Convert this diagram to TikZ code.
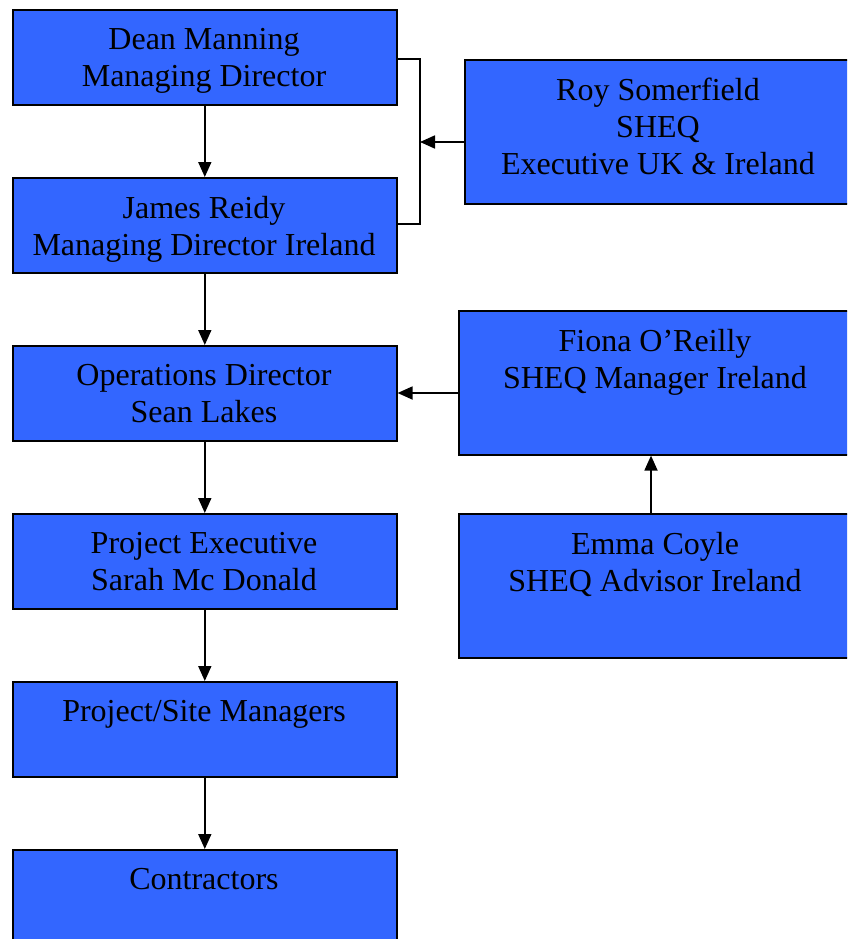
\documentclass[tikz,border=0pt]{standalone}
\usepackage{fontspec}
\setmainfont{Liberation Serif}
\usetikzlibrary{arrows.meta,calc}
\definecolor{boxblue}{HTML}{3366FF}
\tikzset{
  box/.style={draw=black, line width=1.6pt, fill=boxblue, anchor=north west, inner sep=0pt},
  txt/.style={anchor=north, inner sep=0pt, align=center, font=\fontsize{32pt}{37pt}\selectfont},
  conn/.style={line width=1.8pt, -{Triangle[length=15pt,width=13pt]}},
  plain/.style={line width=1.6pt}
}
\begin{document}
\begin{tikzpicture}[x=1pt,y=-1pt]
\useasboundingbox (0,0) rectangle (847,939);
\clip (0,0) rectangle (847,939);
% left column
\node[box, minimum width=384pt, minimum height=95pt] (b1) at (12,9) {};
\node[box, minimum width=384pt, minimum height=95pt] (b2) at (12,177) {};
\node[box, minimum width=384pt, minimum height=95pt] (b3) at (12,345) {};
\node[box, minimum width=384pt, minimum height=95pt] (b4) at (12,513) {};
\node[box, minimum width=384pt, minimum height=95pt] (b5) at (12,681) {};
\node[box, minimum width=384pt, minimum height=95pt] (b6) at (12,849) {};
% right column
\node[box, minimum width=400pt, minimum height=144pt] (r1) at (464,59) {};
\node[box, minimum width=400pt, minimum height=144pt] (r2) at (458,310) {};
\node[box, minimum width=400pt, minimum height=144pt] (r3) at (458,513) {};
% texts
\node[txt] (t1) at (204,28) {Dean Manning\\Managing Director};
\node[txt] (t2) at (204,196) {James Reidy\\Managing Director Ireland};
\node[txt] (t3) at (204,364) {Operations Director\\Sean Lakes};
\node[txt] (t4) at (204,532) {Project Executive\\Sarah Mc Donald};
\node[txt] (t5) at (204,700) {Project/Site Managers};
\node[txt] (t6) at (204,868) {Contractors};
\node[txt] (tr1) at (658,78) {Roy Somerfield\\SHEQ\\Executive UK \& Ireland};
\node[txt] (tr2) at (655,329) {Fiona O’Reilly\\SHEQ Manager Ireland};
\node[txt] (tr3) at (655,532) {Emma Coyle\\SHEQ Advisor Ireland};
% vertical connectors
\draw[conn] (b1.south) -- (b2.north);
\draw[conn] (b2.south) -- (b3.north);
\draw[conn] (b3.south) -- (b4.north);
\draw[conn] (b4.south) -- (b5.north);
\draw[conn] (b5.south) -- (b6.north);
% bracket
\coordinate (bt) at (b1.east |- 0,59);
\coordinate (bb) at (b2.east |- 0,224);
\coordinate (br) at (420,142);
\draw[plain] (bt) -- (br |- bt) -- (br |- bb) -- (bb);
\draw[conn] (r1.west |- br) -- (br);
% Fiona to Operations
\coordinate (fo) at (0,393);
\draw[conn] (r2.west |- fo) -- (b3.east |- fo);
% Emma to Fiona
\coordinate (e1) at (651,0);
\draw[conn] (e1 |- r3.north) -- (e1 |- r2.south);
\end{tikzpicture}
\end{document}
